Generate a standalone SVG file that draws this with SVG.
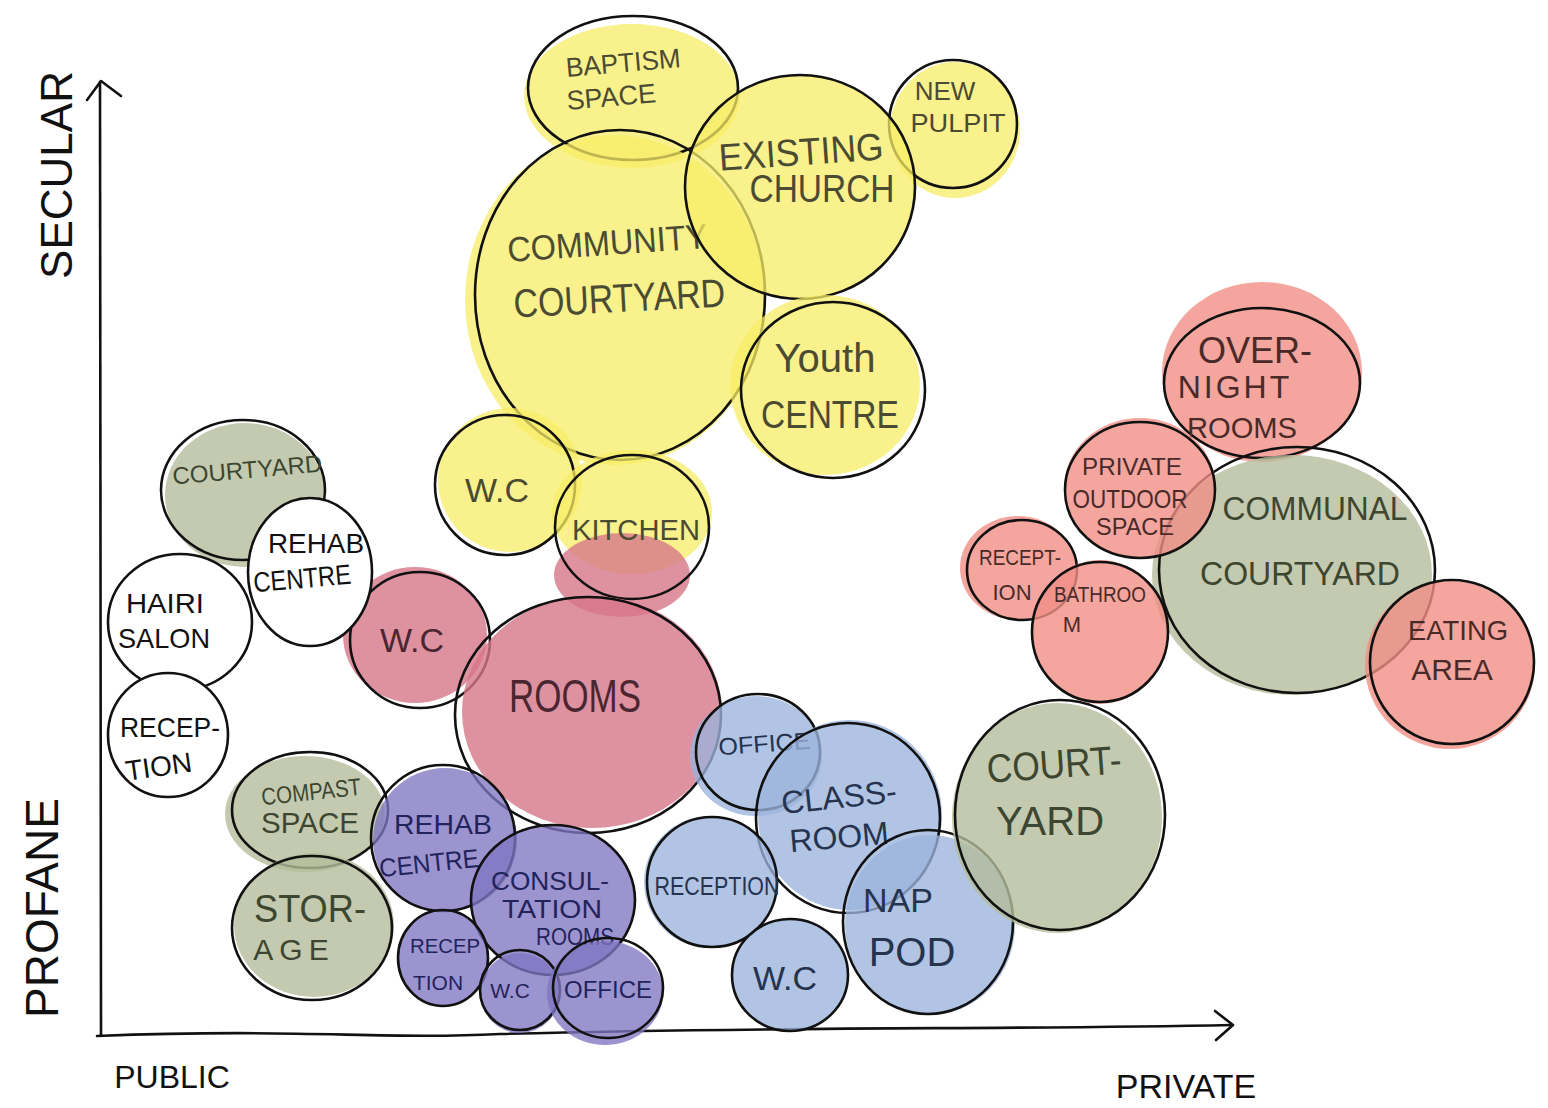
<svg xmlns="http://www.w3.org/2000/svg" width="1548" height="1108" viewBox="0 0 1548 1108">
<style>
text{font-family:"Liberation Sans","DejaVu Sans",sans-serif;text-anchor:middle;font-weight:normal}
.o{fill:none;stroke:#111;stroke-width:2.6}
.y{fill:#f7ec66;fill-opacity:.75}
.p{fill:#d67788;fill-opacity:.8}
.g{fill:#b4bd9b;fill-opacity:.8}
.u{fill:#7f76c2;fill-opacity:.78}
.b{fill:#9bb4dd;fill-opacity:.78}
.s{fill:#f08f86;fill-opacity:.8}
.w{fill:#fff}
.ty{fill:#4b4b33}
.tp{fill:#4a2630}
.tg{fill:#3d4630}
.tu{fill:#23235c}
.tb{fill:#26334f}
.ts{fill:#4a2a28}
.tk{fill:#111}
.ax{fill:none;stroke:#111;stroke-width:2.6;stroke-linecap:round;stroke-linejoin:round}
</style>
<rect width="1548" height="1108" fill="#fff"/>

<g id="axes">
<path class="ax" d="M101,1035 C99,800 101,500 100,82"/>
<path class="ax" d="M87,100 L101,81 L121,96"/>
<path class="ax" d="M97,1036 C300,1028 380,1040 500,1034 C800,1026 1000,1030 1232,1025"/>
<path class="ax" d="M1215,1011 L1233,1025 L1216,1040"/>
<text class="tk" font-size="44" transform="translate(72,175) rotate(-90)">SECULAR</text>
<text class="tk" font-size="46" transform="translate(58,908) rotate(-90)">PROFANE</text>
<text class="tk" font-size="32" x="172" y="1088">PUBLIC</text>
<text class="tk" font-size="34" x="1186" y="1098">PRIVATE</text>
</g>

<g id="yellow-group">
<g id="baptism-space"><ellipse class="y" cx="632" cy="96" rx="108" ry="72"/><ellipse class="o" cx="633" cy="88" rx="105" ry="72"/><text class="ty" font-size="27" transform="translate(624,72) rotate(-5)" textLength="115" lengthAdjust="spacingAndGlyphs">BAPTISM</text><text class="ty" font-size="27" transform="translate(612,106) rotate(-5)">SPACE</text></g>
<g id="new-pulpit"><ellipse class="y" cx="955" cy="130" rx="65" ry="68"/><ellipse class="o" cx="953" cy="124" rx="64" ry="64"/><text class="ty" font-size="26" x="945" y="100">NEW</text><text class="ty" font-size="26" x="958" y="132" textLength="95" lengthAdjust="spacingAndGlyphs">PULPIT</text></g>
<g id="community-courtyard"><ellipse class="y" cx="615" cy="300" rx="150" ry="165"/><ellipse class="o" cx="620" cy="295" rx="145" ry="165"/><text class="ty" font-size="35" transform="translate(608,255) rotate(-4)" textLength="200" lengthAdjust="spacingAndGlyphs">COMMUNITY</text><text class="ty" font-size="40" transform="translate(620,312) rotate(-3)" textLength="212" lengthAdjust="spacingAndGlyphs">COURTYARD</text></g>
<g id="existing-church"><ellipse class="y" cx="800" cy="187" rx="115" ry="112"/><ellipse class="o" cx="800" cy="187" rx="115" ry="112"/><text class="ty" font-size="38" transform="translate(802,165) rotate(-4)" textLength="165" lengthAdjust="spacingAndGlyphs">EXISTING</text><text class="ty" font-size="38" x="822" y="202" textLength="145" lengthAdjust="spacingAndGlyphs">CHURCH</text></g>
<g id="youth-centre"><ellipse class="y" cx="825" cy="385" rx="95" ry="90"/><ellipse class="o" cx="833" cy="390" rx="92" ry="88"/><text class="ty" font-size="40" x="825" y="372">Youth</text><text class="ty" font-size="38" x="830" y="428" textLength="138" lengthAdjust="spacingAndGlyphs">CENTRE</text></g>
<g id="wc-yellow"><ellipse class="y" cx="510" cy="480" rx="72" ry="72"/><ellipse class="o" cx="505" cy="485" rx="70" ry="70"/><text class="ty" font-size="34" x="497" y="502">W.C</text></g>
<g id="kitchen"><ellipse class="y" cx="632" cy="512" rx="80" ry="62"/><ellipse class="p" cx="622" cy="575" rx="68" ry="42"/><ellipse class="o" cx="632" cy="527" rx="77" ry="72"/><text class="ty" font-size="30" x="636" y="540" textLength="128" lengthAdjust="spacingAndGlyphs">KITCHEN</text></g>
</g>

<g id="pink-group">
<g id="wc-red"><ellipse class="p" cx="415" cy="635" rx="72" ry="68"/><ellipse class="o" cx="420" cy="640" rx="70" ry="68"/><text class="tp" font-size="34" x="412" y="652">W.C</text></g>
<g id="rooms"><ellipse class="p" cx="592" cy="712" rx="130" ry="116"/><ellipse class="o" cx="588" cy="715" rx="133" ry="118"/><text class="tp" font-size="46" x="575" y="712" textLength="132" lengthAdjust="spacingAndGlyphs">ROOMS</text></g>
</g>

<g id="left-group">
<g id="courtyard-left"><ellipse class="g" cx="245" cy="495" rx="80" ry="72"/><ellipse class="o" cx="243" cy="490" rx="82" ry="70"/><text class="tg" font-size="24" transform="translate(248,478) rotate(-5)" textLength="150" lengthAdjust="spacingAndGlyphs">COURTYARD</text></g>
<g id="rehab-centre-white"><ellipse class="w" cx="310" cy="572" rx="62" ry="74"/><ellipse class="o" cx="310" cy="572" rx="62" ry="74"/><text class="tk" font-size="28" x="316" y="553" textLength="96" lengthAdjust="spacingAndGlyphs">REHAB</text><text class="tk" font-size="28" transform="translate(303,588) rotate(-5)" textLength="98" lengthAdjust="spacingAndGlyphs">CENTRE</text></g>
<g id="hairi-salon"><ellipse class="w" cx="180" cy="622" rx="72" ry="68"/><ellipse class="o" cx="180" cy="622" rx="72" ry="68"/><text class="tk" font-size="28" x="165" y="613" textLength="78" lengthAdjust="spacingAndGlyphs">HAIRI</text><text class="tk" font-size="28" x="164" y="648" textLength="92" lengthAdjust="spacingAndGlyphs">SALON</text></g>
<g id="reception-white"><ellipse class="w" cx="168" cy="735" rx="60" ry="62"/><ellipse class="o" cx="168" cy="735" rx="60" ry="62"/><text class="tk" font-size="28" x="170" y="737" textLength="100" lengthAdjust="spacingAndGlyphs">RECEP-</text><text class="tk" font-size="28" transform="translate(160,776) rotate(-8)">TION</text></g>
</g>

<g id="green-purple-group">
<g id="compast-space"><ellipse class="g" cx="305" cy="814" rx="80" ry="58"/><ellipse class="o" cx="310" cy="810" rx="78" ry="58"/><text class="tg" font-size="24" transform="translate(312,800) rotate(-6)" textLength="100" lengthAdjust="spacingAndGlyphs">COMPAST</text><text class="tg" font-size="30" x="310" y="833" textLength="98" lengthAdjust="spacingAndGlyphs">SPACE</text></g>
<g id="storage"><ellipse class="g" cx="314" cy="925" rx="80" ry="72"/><ellipse class="o" cx="312" cy="928" rx="80" ry="72"/><text class="tg" font-size="38" x="310" y="922" textLength="112" lengthAdjust="spacingAndGlyphs">STOR-</text><text class="tg" font-size="30" letter-spacing="6" x="294" y="960">AGE</text></g>
<g id="rehab-centre-purple"><ellipse class="u" cx="445" cy="840" rx="72" ry="72"/><ellipse class="o" cx="443" cy="838" rx="72" ry="73"/><text class="tu" font-size="28" x="443" y="834" textLength="98" lengthAdjust="spacingAndGlyphs">REHAB</text><text class="tu" font-size="26" transform="translate(430,872) rotate(-6)" textLength="100" lengthAdjust="spacingAndGlyphs">CENTRE</text></g>
<g id="consultation-rooms"><ellipse class="u" cx="553" cy="900" rx="82" ry="76"/><ellipse class="o" cx="553" cy="900" rx="82" ry="75"/><text class="tu" font-size="26" x="550" y="890" textLength="118" lengthAdjust="spacingAndGlyphs">CONSUL-</text><text class="tu" font-size="26" x="552" y="918" textLength="100" lengthAdjust="spacingAndGlyphs">TATION</text><text class="tu" font-size="24" x="575" y="945" textLength="78" lengthAdjust="spacingAndGlyphs">ROOMS</text></g>
<g id="reception-purple"><ellipse class="u" cx="443" cy="958" rx="45" ry="48"/><ellipse class="o" cx="443" cy="958" rx="45" ry="48"/><text class="tu" font-size="21" x="445" y="953" textLength="70" lengthAdjust="spacingAndGlyphs">RECEP</text><text class="tu" font-size="21" x="438" y="990">TION</text></g>
<g id="wc-purple"><ellipse class="u" cx="520" cy="993" rx="40" ry="40"/><ellipse class="o" cx="520" cy="990" rx="40" ry="40"/><text class="tu" font-size="21" x="510" y="998">W.C</text></g>
<g id="office-purple"><ellipse class="u" cx="605" cy="993" rx="58" ry="52"/><ellipse class="o" cx="608" cy="988" rx="55" ry="50"/><text class="tu" font-size="23" x="608" y="998" textLength="88" lengthAdjust="spacingAndGlyphs">OFFICE</text></g>
</g>

<g id="blue-group">
<g id="office-blue"><ellipse class="b" cx="756" cy="756" rx="66" ry="60"/><ellipse class="o" cx="758" cy="752" rx="62" ry="58"/><text class="tb" font-size="24" transform="translate(765,752) rotate(-4)" textLength="92" lengthAdjust="spacingAndGlyphs">OFFICE</text></g>
<g id="classroom"><ellipse class="b" cx="850" cy="815" rx="92" ry="95"/><ellipse class="o" cx="848" cy="818" rx="92" ry="95"/><text class="tb" font-size="32" transform="translate(840,808) rotate(-6)">CLASS-</text><text class="tb" font-size="32" transform="translate(840,848) rotate(-5)">ROOM</text></g>
<g id="reception-blue"><ellipse class="b" cx="710" cy="882" rx="66" ry="66"/><ellipse class="o" cx="712" cy="882" rx="65" ry="65"/><text class="tb" font-size="26" x="717" y="895" textLength="125" lengthAdjust="spacingAndGlyphs">RECEPTION</text></g>
<g id="wc-blue"><ellipse class="b" cx="790" cy="975" rx="58" ry="56"/><ellipse class="o" cx="790" cy="975" rx="58" ry="56"/><text class="tb" font-size="34" x="785" y="990">W.C</text></g>
<g id="nap-pod"><ellipse class="b" cx="930" cy="925" rx="85" ry="90"/><ellipse class="o" cx="928" cy="922" rx="85" ry="92"/><text class="tb" font-size="34" x="898" y="912">NAP</text><text class="tb" font-size="40" x="912" y="966">POD</text></g>
</g>

<g id="court-yard"><ellipse class="g" cx="1057" cy="818" rx="105" ry="115"/><ellipse class="o" cx="1060" cy="815" rx="105" ry="115"/><text class="tg" font-size="40" transform="translate(1055,778) rotate(-4)" textLength="135" lengthAdjust="spacingAndGlyphs">COURT-</text><text class="tg" font-size="40" x="1050" y="835">YARD</text></g>

<g id="red-group">
<g id="overnight-rooms"><ellipse class="s" cx="1262" cy="372" rx="100" ry="90"/><ellipse class="o" cx="1262" cy="383" rx="98" ry="75"/><text class="ts" font-size="36" x="1255" y="363">OVER-</text><text class="ts" font-size="32" letter-spacing="3" x="1235" y="398">NIGHT</text><text class="ts" font-size="30" x="1242" y="438" textLength="110" lengthAdjust="spacingAndGlyphs">ROOMS</text></g>
<g id="communal-courtyard"><ellipse class="g" cx="1292" cy="575" rx="140" ry="120"/><ellipse class="o" cx="1297" cy="570" rx="138" ry="123"/><text class="tg" font-size="34" x="1315" y="520" textLength="185" lengthAdjust="spacingAndGlyphs">COMMUNAL</text><text class="tg" font-size="34" x="1300" y="585" textLength="200" lengthAdjust="spacingAndGlyphs">COURTYARD</text></g>
<g id="private-outdoor-space"><ellipse class="s" cx="1140" cy="488" rx="76" ry="70"/><ellipse class="o" cx="1140" cy="490" rx="75" ry="68"/><text class="ts" font-size="23" x="1132" y="475" textLength="100" lengthAdjust="spacingAndGlyphs">PRIVATE</text><text class="ts" font-size="25" x="1130" y="508" textLength="115" lengthAdjust="spacingAndGlyphs">OUTDOOR</text><text class="ts" font-size="23" x="1135" y="535" textLength="78" lengthAdjust="spacingAndGlyphs">SPACE</text></g>
<g id="reception-red"><ellipse class="s" cx="1018" cy="568" rx="58" ry="52"/><ellipse class="o" cx="1022" cy="570" rx="55" ry="50"/><text class="ts" font-size="22" x="1020" y="565" textLength="82" lengthAdjust="spacingAndGlyphs">RECEPT-</text><text class="ts" font-size="22" x="1012" y="600">ION</text></g>
<g id="bathroom"><ellipse class="s" cx="1100" cy="632" rx="68" ry="72"/><ellipse class="o" cx="1100" cy="632" rx="68" ry="70"/><text class="ts" font-size="22" x="1100" y="602" textLength="92" lengthAdjust="spacingAndGlyphs">BATHROO</text><text class="ts" font-size="22" x="1072" y="632">M</text></g>
<g id="eating-area"><ellipse class="s" cx="1450" cy="665" rx="85" ry="84"/><ellipse class="o" cx="1452" cy="662" rx="82" ry="82"/><text class="ts" font-size="28" x="1458" y="640" textLength="100" lengthAdjust="spacingAndGlyphs">EATING</text><text class="ts" font-size="30" x="1452" y="680">AREA</text></g>
</g>
</svg>
